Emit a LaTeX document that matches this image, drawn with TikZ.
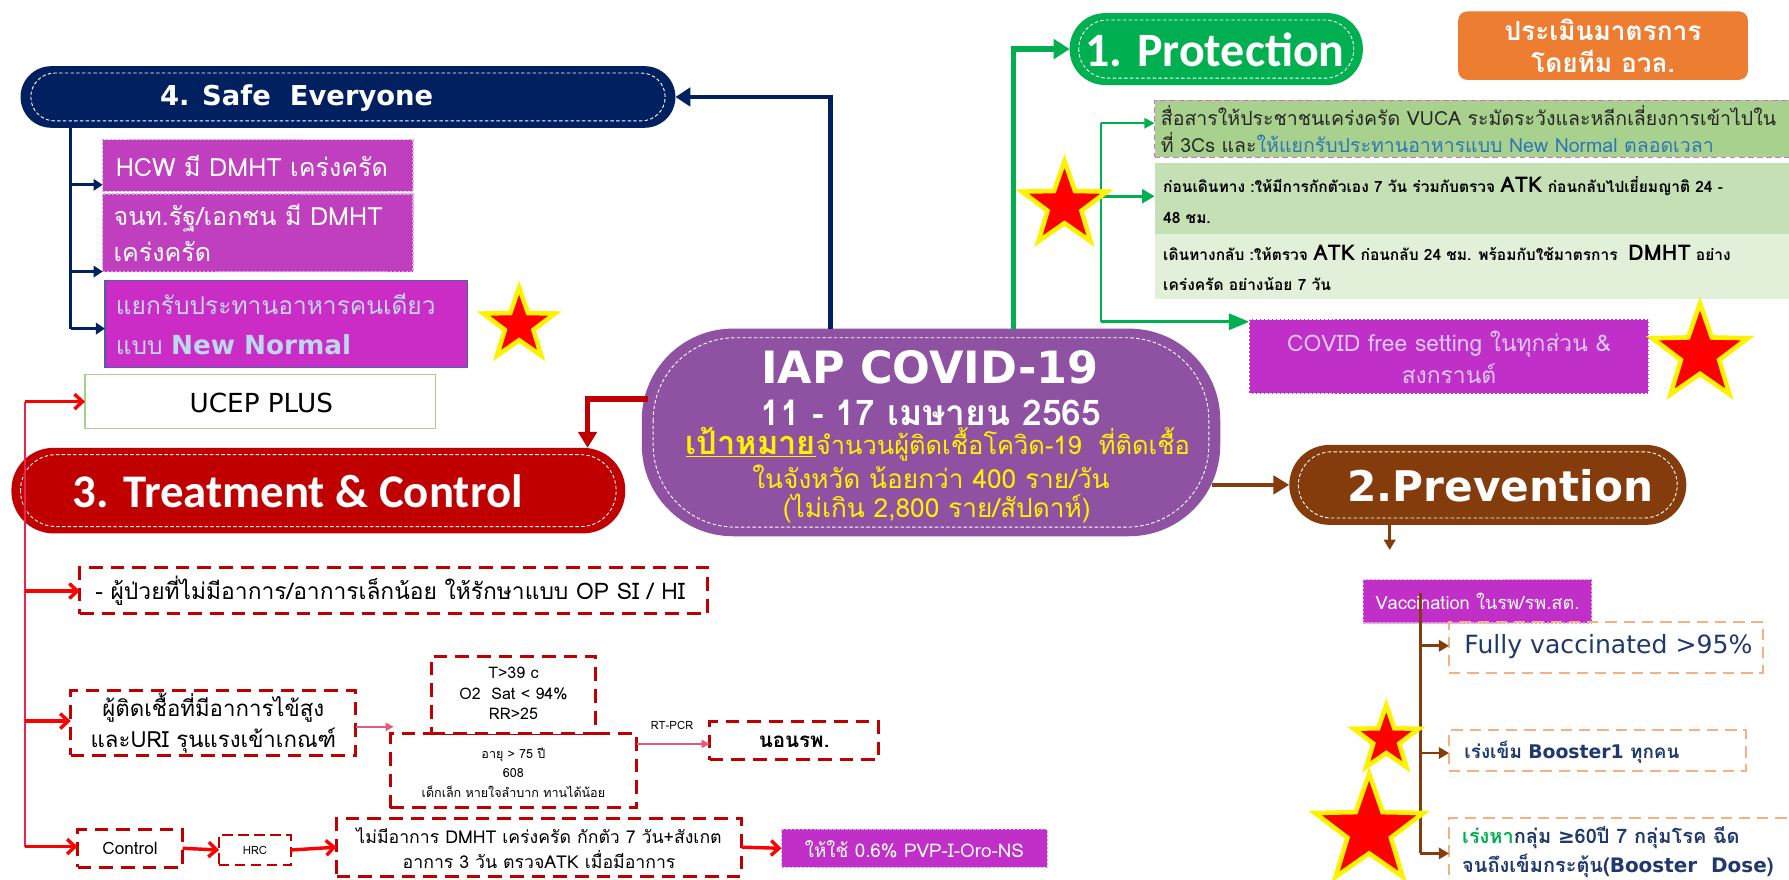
\documentclass[tikz,border=0pt]{standalone}
\usepackage{fontspec}
\setmainfont[Script=Thai]{Loma}
\newfontfamily\dvs{DejaVu Sans}
\newfontfamily\crl{Carlito}
\usetikzlibrary{arrows.meta,shapes.geometric,calc}
\definecolor{navy}{RGB}{0,32,96}
\definecolor{iapc}{RGB}{143,82,163}
\definecolor{mag1}{RGB}{191,63,191}
\definecolor{mag2}{RGB}{204,44,198}
\definecolor{mag3}{RGB}{192,48,200}
\definecolor{pgreen}{RGB}{0,176,80}
\definecolor{orng}{RGB}{237,125,49}
\definecolor{dred}{RGB}{192,0,0}
\definecolor{brn}{RGB}{132,60,12}
\definecolor{gA}{RGB}{169,209,142}
\definecolor{gB}{RGB}{197,224,180}
\definecolor{gC}{RGB}{226,240,217}
\definecolor{lorng}{RGB}{244,177,131}
\definecolor{tblue}{RGB}{46,117,182}
\definecolor{ltblue}{RGB}{189,215,238}
\definecolor{lav}{RGB}{220,200,245}
\definecolor{pinkd}{RGB}{210,110,210}
\definecolor{busred}{RGB}{228,40,75}
\definecolor{pinkarr}{RGB}{225,90,120}
\definecolor{tnavy}{RGB}{31,56,110}
\definecolor{ucepg}{RGB}{169,209,142}
\definecolor{bluebd}{RGB}{70,100,160}
\newcommand\fs[2]{\fontsize{#1}{#2}\selectfont}
\begin{document}
\begin{tikzpicture}[x=1pt,y=-1pt,
  blank/.style={inner sep=0pt,outer sep=0pt},
  idash/.style={draw=white,line width=0.8pt,dash pattern=on 3pt off 2pt},
  rdash/.style={blank,draw=dred,line width=2.6pt,dash pattern=on 12pt off 7pt,fill=white},
  odash/.style={blank,draw=lorng,line width=1.5pt,dash pattern=on 10pt off 6pt},
  magbox/.style={blank,draw=white!55!mag3,line width=1pt,dash pattern=on 2pt off 1.5pt},
  starn/.style={star,star points=5,star point ratio=2.5,fill=red,draw=yellow,line width=4pt,inner sep=0pt},
  navarr/.style={draw=navy,line width=4pt,-{Triangle[length=13pt,width=16pt]}},
  navsm/.style={draw=navy,line width=2.5pt,-{Triangle[length=8pt,width=10pt]}},
  grnarr/.style={draw=pgreen,line width=4.5pt,-{Triangle[length=14pt,width=17pt]}},
  grnthin/.style={draw=pgreen,line width=1.5pt},
  grnsm/.style={draw=pgreen,line width=1.8pt,-{Triangle[length=9pt,width=9pt]}},
  grnmd/.style={draw=pgreen,line width=3pt,-{Triangle[length=11pt,width=12pt]}},
  grnbig/.style={draw=pgreen,line width=3pt,-{Triangle[length=18pt,width=14pt]}},
  redarr/.style={draw=dred,line width=5pt,-{Triangle[length=14pt,width=16pt]}},
  brarr/.style={draw=brn,line width=4pt,-{Triangle[length=14pt,width=16pt]}},
  brsm/.style={draw=brn,line width=2.5pt,-{Triangle[length=9pt,width=10pt]}},
  brline/.style={draw=brn,line width=2.5pt},
  rbus/.style={draw=busred,line width=2pt},
  rbarb/.style={draw=red,line width=3pt,-{Straight Barb[length=7pt,width=13pt,line width=3pt]}},
  pkarr/.style={draw=pinkarr,line width=1.5pt,-{Triangle[length=7pt,width=7pt]}},
]
\useasboundingbox (0,0) rectangle (1568,771);
\fill[white] (0,0) rectangle (1568,771);

% ---------- main boxes ----------
\node[blank,fill=iapc,minimum width=507pt,minimum height=182pt,rounded corners=80pt] (iap) at (816,379) {};
\node[blank,fill=navy,minimum width=574pt,minimum height=54pt,rounded corners=27pt] (safe) at (305,85) {};
\node[blank,fill=pgreen,minimum width=257pt,minimum height=63pt,rounded corners=31pt] (prot) at (1066,43) {};
\node[blank,fill=dred,minimum width=538pt,minimum height=75pt,rounded corners=37pt] (treat) at (279,430) {};
\node[blank,fill=brn,minimum width=348pt,minimum height=70pt,rounded corners=35pt] (prev) at (1304,425) {};

\coordinate (rstart) at (568,350);
\coordinate (bstart) at (1062,425);
\draw[navarr] ([xshift=-88pt]iap.north) |- (safe.east);
\draw[grnarr] ([xshift=72pt]iap.north) |- (prot.west);
\draw[redarr] (rstart) -| ([xshift=236pt]treat.north);
\draw[brarr] (bstart) -- (prev.west);

% inner dashed borders of the big boxes
\draw[idash,rounded corners=72pt] ($(iap.north west)+(10,8)$) rectangle ($(iap.south east)+(-10,-8)$);
\draw[idash,rounded corners=21pt] ($(safe.north west)+(9,6)$) rectangle ($(safe.south east)+(-9,-6)$);
\draw[idash,rounded corners=25pt] ($(prot.north west)+(8,6)$) rectangle ($(prot.south east)+(-8,-6)$);
\draw[idash,rounded corners=31pt] ($(treat.north west)+(8,6)$) rectangle ($(treat.south east)+(-8,-6)$);
\draw[idash,rounded corners=29pt] ($(prev.north west)+(8,6)$) rectangle ($(prev.south east)+(-8,-6)$);

% ---------- centre texts ----------
\node[text=white,font=\dvs\bfseries\fs{39}{42}] (iapt1) at (815,322) {IAP COVID-19};
\node[text=white,font=\bfseries\fs{31}{34}] (iapt2) at (816,362) {11 - 17 เมษายน 2565};
\node[text=yellow,font=\fs{22.3}{24}] (iapt3) at (822,389) {{\bfseries\fs{28.5}{28}\underline{เป้าหมาย}}จำนวนผู้ติดเชื้อโควิด-19\ \ ที่ติดเชื้อ};
\node[text=yellow,font=\fs{23}{24}] (iapt4) at (816,418) {ในจังหวัด น้อยกว่า 400 ราย/วัน};
\node[text=yellow,font=\fs{23}{24}] (iapt5) at (821,446) {(ไม่เกิน 2,800 ราย/สัปดาห์)};

% ---------- 4. Safe Everyone ----------
\node[text=white,font=\dvs\bfseries\fs{24}{28}] (safet) at (260,86) {4. Safe\ \ Everyone};
\node[magbox,fill=mag1,minimum width=272pt,minimum height=45pt] (hcw) at (226,145) {};
\node[anchor=west,text=white,font=\fs{22}{24}] (hcwt) at (98,145) {HCW มี DMHT เคร่งครัด};
\node[magbox,fill=mag1,minimum width=272pt,minimum height=68pt] (stf) at (226,204) {};
\node[anchor=west,text=white,font=\fs{22}{31},align=left] (stft) at (96,204) {จนท.รัฐ/เอกชน มี DMHT\\เคร่งครัด};
\node[blank,fill=mag2,draw=bluebd,line width=1pt,minimum width=318pt,minimum height=76pt] (yen) at (251,284) {};
\node[anchor=west,text=ltblue,font=\fs{21.5}{35},align=left] (yent) at (98,284) {แยกรับประทานอาหารคนเดียว\\แบบ {\dvs\bfseries\fs{23}{35}New Normal}};
\node[starn,minimum size=66pt] (st1) at (455,285) {};

\coordinate (sn1) at (62,162);
\coordinate (sn2) at (62,238);
\coordinate (sn3) at (62,288);
\draw[draw=navy,line width=2.5pt] ([xshift=-243pt]safe.south) -- (sn3);
\draw[navsm] (sn1) -- (sn1 -| hcw.west);
\draw[navsm] (sn2) -- (sn2 -| stf.west);
\draw[navsm] (sn3) -- (sn3 -| yen.west);

% ---------- UCEP + Treatment ----------
\node[blank,fill=white,draw=ucepg,line width=1.2pt,minimum width=307pt,minimum height=47pt] (ucep) at (228,352) {};
\node[font=\dvs\fs{23}{26}] (ucept) at (229,353) {UCEP PLUS};
\node[text=white,font=\crl\bfseries\fs{41}{44}] (treatt) at (261,431) {3. Treatment \& Control};

\node[rdash,minimum width=550pt,minimum height=41pt] (r1) at (345,517.5) {};
\node[anchor=west,font=\fs{20}{22}] (r1t) at (80,518) {- ผู้ป่วยที่ไม่มีอาการ/อาการเล็กน้อย ให้รักษาแบบ OP SI / HI};
\node[rdash,minimum width=250pt,minimum height=57pt] (r2) at (187,633.5) {};
\node[font=\fs{19.5}{27},align=center] (r2t) at (187,634) {ผู้ติดเชื้อที่มีอาการไข้สูง\\และURI รุนแรงเข้าเกณฑ์};
\node[rdash,minimum width=216pt,minimum height=65pt] (c2) at (450,675.5) {};
\node[rdash,minimum width=144pt,minimum height=68pt] (c1) at (450,609) {};
\node[font=\fs{14}{18},align=center] (c1t) at (450,608) {T>39 c\\O2\ \ Sat < 94\%\\RR>25};
\node[font=\fs{11}{17},align=center] (c2t) at (450,677) {อายุ > 75 ปี\\608\\เด็กเล็ก หายใจลำบาก ทานได้น้อย};
\node[rdash,minimum width=148pt,minimum height=34pt] (adm) at (696,649) {};
\node[font=\bfseries\fs{18}{20}] (admt) at (696,650) {นอนรพ.};
\node[font=\fs{10}{12}] (rtpcr) at (589,636) {RT-PCR};
\coordinate (pk1) at (312,637);
\coordinate (pk2) at (345,637);
\draw[pkarr] (pk1) -- (pk2);
\coordinate (rp1) at (558,652);
\draw[pkarr] (rp1) -- (rp1 -| adm.west);

\node[rdash,minimum width=92pt,minimum height=33pt] (ctl) at (114,743.5) {};
\node[font=\fs{15}{18}] (ctlt) at (114,744) {Control};
\node[rdash,line width=2pt,dash pattern=on 9pt off 5pt,minimum width=63pt,minimum height=26pt] (hrc) at (223.5,745) {};
\node[font=\fs{10}{12}] (hrct) at (223.5,745) {HRC};
\node[rdash,minimum width=355pt,minimum height=51pt] (iso) at (472.5,742.5) {};
\node[font=\fs{15.5}{22},align=center] (isot) at (472.5,743) {ไม่มีอาการ DMHT เคร่งครัด กักตัว 7 วัน+สังเกต\\อาการ 3 วัน ตรวจATK เมื่อมีอาการ};
\node[magbox,fill=mag3,minimum width=233pt,minimum height=33pt] (pvp) at (801.5,743.5) {};
\node[text=white,font=\fs{16.5}{18}] (pvpt) at (801.5,744) {ให้ใช้ 0.6\% PVP-I-Oro-NS};
\draw[rbarb] (ctl.east) -- (hrc.west);
\draw[rbarb] (hrc.east) -- (iso.west);
\draw[rbarb] (iso.east) -- (pvp.west);

\coordinate (rb0) at (22,352);
\coordinate (rb1) at (22,518);
\coordinate (rb2) at (22,632);
\coordinate (rb3) at (22,742);
\draw[rbus] (rb0) -- (rb3);
\draw[rbarb] (rb0) -- (rb0 -| ucep.west);
\draw[rbarb] (rb1) -- (rb1 -| r1.west);
\draw[rbarb] (rb2) -- (rb2 -| r2.west);
\draw[rbarb] (rb3) -- (rb3 -| ctl.west);

% ---------- 1. Protection ----------
\node[text=white,font=\crl\bfseries\fs{42}{46}] (prott) at (1065,44) {1. Protection};
\node[blank,fill=orng,minimum width=254pt,minimum height=60pt,rounded corners=8pt] (eval) at (1405,40) {};
\node[text=white,font=\bfseries\fs{23}{28},align=center] (evalt) at (1405,40) {ประเมินมาตรการ\\โดยทีม อวล.};

\node[blank,fill=gA,draw=pinkd,line width=1.2pt,dash pattern=on 5pt off 3pt,anchor=north west,minimum width=560pt,minimum height=50pt] (p1) at (1012,88) {};
\node[anchor=west,font=\fs{17.1}{23},align=left,text=black!85] (p1t) at (1014,113) {สื่อสารให้ประชาชนเคร่งครัด VUCA ระมัดระวังและหลีกเลี่ยงการเข้าไปใน\\ที่ 3Cs และ\textcolor{tblue}{ให้แยกรับประทานอาหารแบบ New Normal ตลอดเวลา}};
\node[blank,fill=gB,anchor=north west,minimum width=560pt,minimum height=62pt] (p2) at (1012,143) {};
\node[anchor=west,font=\bfseries\fs{13.6}{27},align=left] (p2t) at (1016,175) {ก่อนเดินทาง :ให้มีการกักตัวเอง 7 วัน ร่วมกับตรวจ {\fs{19}{27}ATK} ก่อนกลับไปเยี่ยมญาติ 24 -\\48 ชม.};
\node[blank,fill=gC,anchor=north west,minimum width=560pt,minimum height=57pt] (p3) at (1012,205) {};
\node[anchor=west,font=\bfseries\fs{13.6}{26},align=left] (p3t) at (1016,235) {เดินทางกลับ :ให้ตรวจ {\fs{19}{26}ATK} ก่อนกลับ 24 ชม. พร้อมกับใช้มาตรการ\ \ {\fs{19}{26}DMHT} อย่าง\\เคร่งครัด อย่างน้อย 7 วัน};
\node[magbox,fill=mag3,draw=white,minimum width=350pt,minimum height=65pt] (cfree) at (1270,312.5) {};
\node[text=lav,font=\fs{20}{28},align=center] (cfreet) at (1270,313) {COVID free setting ในทุกส่วน \&\\สงกรานต์};

\coordinate (g0) at (965,108);
\coordinate (g1) at (965,172);
\coordinate (g2) at (965,282);
\draw[grnthin] (g0) -- (g2);
\draw[grnsm] (g0) -- (g0 -| p1.west);
\draw[grnmd] (g1) -- (g1 -| p2.west);
\draw[grnbig] (g2) -- (g2 -| cfree.west);
\node[starn,minimum size=78pt] (st2) at (933,180) {};
\node[starn,minimum size=88pt] (st3) at (1490,310) {};

% ---------- 2. Prevention ----------
\node[text=white,font=\dvs\bfseries\fs{37}{40}] (prevt) at (1315,426) {2.Prevention};
\coordinate (bd) at (1218,482);
\draw[brsm] ([xshift=-86pt]prev.south) -- (bd);
\node[magbox,fill=mag3,minimum width=200pt,minimum height=38pt] (vac) at (1295,527) {};
\node[text=white,font=\fs{16}{20}] (vact) at (1295,527) {Vaccination ในรพ/รพ.สต.};
\node[odash,minimum width=275pt,minimum height=45pt] (v1) at (1407.5,567.5) {};
\node[anchor=west,text=tnavy,font=\dvs\fs{22}{24}] (v1t) at (1280,567) {Fully vaccinated >95\%};
\node[odash,minimum width=260pt,minimum height=36pt] (v2) at (1400,658) {};
\node[anchor=west,text=tnavy,font=\bfseries\fs{16.5}{20}] (v2t) at (1280,659) {เร่งเข็ม {\dvs Booster1} ทุกคน};
\node[odash,anchor=north west,minimum width=310pt,minimum height=60pt] (v3) at (1270,717) {};
\node[anchor=west,text=tnavy,font=\bfseries\fs{17.5}{26},align=left] (v3t) at (1278,747) {\textcolor{pgreen}{เร่งหา}กลุ่ม {\dvs ≥}60ปี 7 กลุ่มโรค ฉีด\\จนถึงเข็มกระตุ้น({\dvs Booster\ \ Dose})};

\coordinate (b0) at (1245,520);
\coordinate (b1) at (1245,566);
\coordinate (b2) at (1245,660);
\coordinate (b3) at (1245,748);
\draw[brline] (b0) -- (b3);
\draw[brsm] (b1) -- (b1 -| v1.west);
\draw[brsm] (b2) -- (b2 -| v2.west);
\draw[brsm] (b3) -- (b3 -| v3.west);
\node[starn,minimum size=60pt] (st4) at (1215,648) {};
\node[starn,minimum size=100pt] (st5) at (1200,728) {};
\end{tikzpicture}
\end{document}
